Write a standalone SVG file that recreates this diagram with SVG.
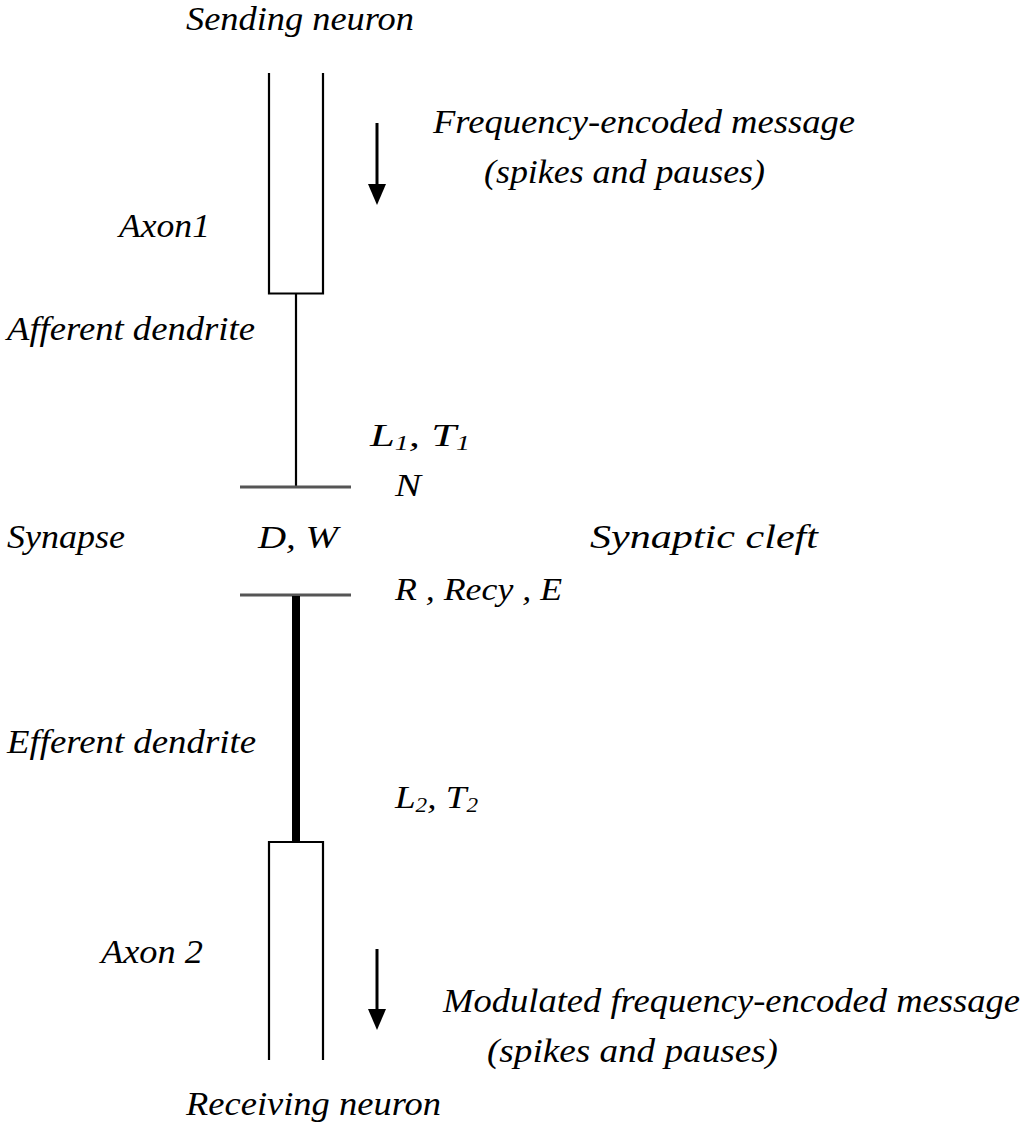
<svg xmlns="http://www.w3.org/2000/svg" width="1024" height="1132" viewBox="0 0 1024 1132">
<style>
text{font-family:"Liberation Serif","Times New Roman",serif;font-style:italic;font-size:33px;fill:#000}
.m{font-size:32px}
.sub{font-size:20px}
.thin{stroke:#000;stroke-width:2.2;fill:none}
.gray{stroke:#555;stroke-width:3;fill:none}
</style>
<rect width="1024" height="1132" fill="#fff"/>
<g id="sending-axon">
<path class="thin" d="M269,73 V293.5 H323 V73"/>
</g>
<g id="afferent-dendrite">
<line class="thin" x1="296" y1="293.5" x2="296" y2="486"/>
</g>
<g id="presynaptic-membrane">
<line class="gray" x1="240" y1="487" x2="351" y2="487"/>
</g>
<g id="postsynaptic-membrane">
<line class="gray" x1="240" y1="595" x2="351" y2="595"/>
</g>
<g id="efferent-dendrite">
<line stroke="#000" stroke-width="8" x1="296" y1="596" x2="296" y2="842"/>
</g>
<g id="receiving-axon">
<path class="thin" d="M269,1060 V842 H323 V1060"/>
</g>
<g id="connectors">
<line stroke="#000" stroke-width="3" x1="377" y1="123" x2="377" y2="186"/>
<path d="M368,184 L386,184 L377,205 z" fill="#000"/>
<line stroke="#000" stroke-width="3" x1="377" y1="949" x2="377" y2="1011"/>
<path d="M368,1009 L386,1009 L377,1030 z" fill="#000"/>
</g>
<g id="labels">
<text x="186" y="30" textLength="228" lengthAdjust="spacingAndGlyphs">Sending neuron</text>
<text x="433" y="133" textLength="422" lengthAdjust="spacingAndGlyphs">Frequency-encoded message</text>
<text x="484" y="183" textLength="281" lengthAdjust="spacingAndGlyphs">(spikes and pauses)</text>
<text x="119" y="237" textLength="91" lengthAdjust="spacingAndGlyphs">Axon1</text>
<text x="7" y="340" textLength="248" lengthAdjust="spacingAndGlyphs">Afferent dendrite</text>
<text class="m" x="370" y="446" textLength="100" lengthAdjust="spacingAndGlyphs">L<tspan class="sub" dy="4">1</tspan><tspan dy="-4">, T</tspan><tspan class="sub" dy="4">1</tspan></text>
<text class="m" x="395" y="496" textLength="26" lengthAdjust="spacingAndGlyphs">N</text>
<text x="7" y="548" textLength="118" lengthAdjust="spacingAndGlyphs">Synapse</text>
<text class="m" x="258" y="548" textLength="80" lengthAdjust="spacingAndGlyphs">D, W</text>
<text x="590" y="548" textLength="228" lengthAdjust="spacingAndGlyphs">Synaptic cleft</text>
<text class="m" x="395" y="600" textLength="167" lengthAdjust="spacingAndGlyphs">R , Recy , E</text>
<text x="7" y="753" textLength="249" lengthAdjust="spacingAndGlyphs">Efferent dendrite</text>
<text class="m" x="395" y="808" textLength="83" lengthAdjust="spacingAndGlyphs">L<tspan class="sub" dy="4">2</tspan><tspan dy="-4">, T</tspan><tspan class="sub" dy="4">2</tspan></text>
<text x="101" y="963" textLength="102" lengthAdjust="spacingAndGlyphs">Axon 2</text>
<text x="443" y="1012" textLength="577" lengthAdjust="spacingAndGlyphs">Modulated frequency-encoded message</text>
<text x="487" y="1062" textLength="291" lengthAdjust="spacingAndGlyphs">(spikes and pauses)</text>
<text x="186" y="1115" textLength="255" lengthAdjust="spacingAndGlyphs">Receiving neuron</text>
</g>
</svg>
